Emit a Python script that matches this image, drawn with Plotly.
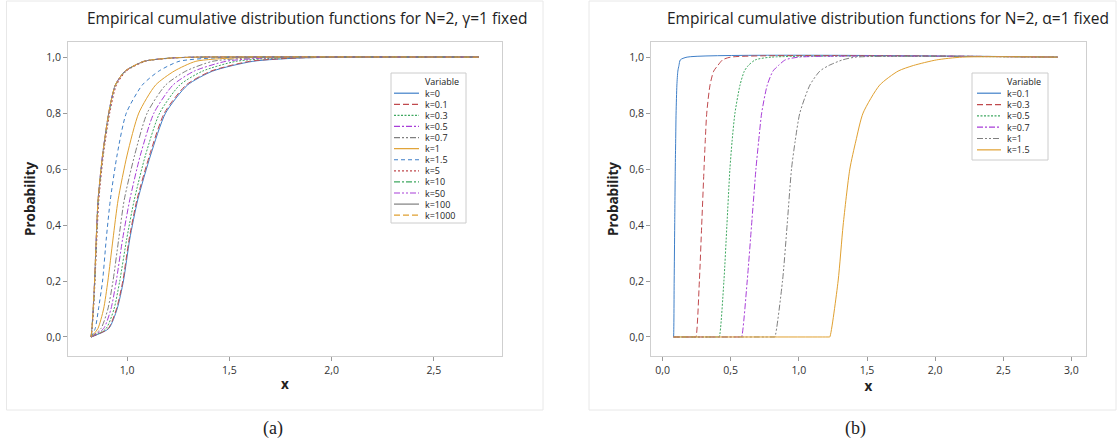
import plotly.graph_objects as go

# ---------------- data ----------------
# Panel (a): x-quantiles of each empirical CDF at given probability levels
prob_a = [0, 0.03, 0.1, 0.2, 0.35, 0.49, 0.65, 0.8, 0.9, 0.95, 0.985, 0.997, 1, 1]
labels_a = ["k=0", "k=0.1", "k=0.3", "k=0.5", "k=0.7", "k=1", "k=1.5",
            "k=5", "k=10", "k=50", "k=100", "k=1000"]
x_k0    = [0.824, 0.910, 0.951, 0.982, 1.013, 1.052, 1.115, 1.188, 1.295, 1.418, 1.615, 1.85, 2.20, 2.72]
x_k01   = [0.824, 0.907, 0.948, 0.979, 1.010, 1.048, 1.110, 1.182, 1.288, 1.410, 1.600, 1.83, 2.18, 2.72]
x_k03   = [0.824, 0.897, 0.936, 0.964, 0.998, 1.035, 1.090, 1.159, 1.257, 1.369, 1.533, 1.75, 2.05, 2.72]
x_k05   = [0.824, 0.885, 0.921, 0.947, 0.978, 1.013, 1.065, 1.131, 1.224, 1.328, 1.483, 1.68, 1.95, 2.72]
x_k07   = [0.824, 0.872, 0.906, 0.931, 0.959, 0.986, 1.037, 1.098, 1.188, 1.287, 1.418, 1.60, 1.85, 2.72]
x_k1    = [0.824, 0.857, 0.885, 0.906, 0.931, 0.956, 1.000, 1.057, 1.139, 1.230, 1.336, 1.52, 1.75, 2.72]
x_k15   = [0.824, 0.844, 0.860, 0.880, 0.898, 0.918, 0.951, 0.996, 1.074, 1.155, 1.254, 1.42, 1.60, 2.72]
x_k5    = [0.824, 0.829, 0.836, 0.843, 0.852, 0.862, 0.884, 0.915, 0.948, 0.996, 1.090, 1.23, 1.38, 2.72]
x_k10   = [0.824, 0.828, 0.835, 0.842, 0.850, 0.859, 0.881, 0.911, 0.943, 0.991, 1.084, 1.22, 1.36, 2.72]
x_k50   = [0.824, 0.828, 0.834, 0.841, 0.849, 0.858, 0.880, 0.910, 0.942, 0.990, 1.082, 1.22, 1.35, 2.72]
x_k100  = [0.824, 0.828, 0.834, 0.841, 0.849, 0.858, 0.880, 0.910, 0.942, 0.990, 1.082, 1.22, 1.35, 2.72]
x_k1000 = [0.824, 0.828, 0.834, 0.841, 0.849, 0.858, 0.880, 0.910, 0.942, 0.990, 1.082, 1.22, 1.35, 2.72]
series_a = [x_k0, x_k01, x_k03, x_k05, x_k07, x_k1, x_k15, x_k5, x_k10, x_k50, x_k100, x_k1000]

# Panel (b)
prob_b = [0, 0, 0, 0.2, 0.4, 0.6, 0.7, 0.8, 0.9, 0.95, 0.97, 0.99, 1, 1]
labels_b = ["k=0.1", "k=0.3", "k=0.5", "k=0.7", "k=1", "k=1.5"]
xb_k01 = [0.080, 0.0800, 0.0805, 0.085, 0.089, 0.093, 0.096, 0.099, 0.105, 0.112, 0.120, 0.130, 0.18, 2.90]
xb_k03 = [0.080, 0.240, 0.245, 0.270, 0.287, 0.304, 0.313, 0.324, 0.348, 0.375, 0.405, 0.440, 0.50, 2.90]
xb_k05 = [0.080, 0.411, 0.416, 0.450, 0.472, 0.494, 0.510, 0.531, 0.568, 0.600, 0.629, 0.680, 0.80, 2.90]
xb_k07 = [0.080, 0.575, 0.580, 0.621, 0.653, 0.685, 0.705, 0.727, 0.768, 0.810, 0.850, 0.900, 1.00, 2.90]
xb_k1  = [0.080, 0.819, 0.824, 0.880, 0.914, 0.946, 0.973, 1.007, 1.081, 1.154, 1.220, 1.320, 1.42, 2.90]
xb_k15 = [0.080, 1.222, 1.227, 1.288, 1.325, 1.374, 1.418, 1.471, 1.593, 1.728, 1.840, 2.010, 2.20, 2.90]
series_b = [xb_k01, xb_k03, xb_k05, xb_k07, xb_k1, xb_k15]

# ---------------- styles ----------------
BLUE, RED, GREEN, PURPLE, GRAY, ORANGE = "#3f7fc8", "#c0494d", "#3fa860", "#a83ed8", "#7f7f7f", "#e0a030"
DASHDOTDOT = "6px,2px,2px,2px,2px,2px"
DASHDOT = "6px,2px,2px,2px"
styles_a = [
    (BLUE, "solid"), (RED, "6px,3px"), (GREEN, "2px,1.5px"), (PURPLE, DASHDOT),
    (GRAY, DASHDOTDOT), (ORANGE, "solid"), (BLUE, "4px,3px"), (RED, "2px,2px"),
    (GREEN, DASHDOT), (PURPLE, DASHDOTDOT), (GRAY, "solid"), (ORANGE, "6px,3px"),
]
styles_b = [
    (BLUE, "solid"), (RED, "6px,3px"), (GREEN, "2px,1.5px"), (PURPLE, DASHDOT),
    (GRAY, DASHDOTDOT), (ORANGE, "solid"),
]

W, H = 1119, 445
FONT = "Open Sans"
TXT = "#222222"
SMOOTH = 0.65

fig = go.Figure()
for lab, xs, (c, d) in zip(labels_a, series_a, styles_a):
    fig.add_trace(go.Scatter(x=xs, y=prob_a, mode="lines", name=lab, showlegend=False,
                             line=dict(color=c, dash=d, width=1, shape="spline", smoothing=SMOOTH),
                             xaxis="x", yaxis="y"))
for lab, xs, (c, d) in zip(labels_b, series_b, styles_b):
    fig.add_trace(go.Scatter(x=xs, y=prob_b, mode="lines", name=lab, showlegend=False,
                             line=dict(color=c, dash=d, width=1, shape="spline", smoothing=SMOOTH),
                             xaxis="x2", yaxis="y2"))

axis_common = dict(showline=True, mirror=True, linecolor="#cfcfcf", linewidth=1,
                   ticks="outside", ticklen=4, tickcolor="#9a9a9a",
                   showgrid=False, zeroline=False,
                   tickfont=dict(family=FONT, size=10.5, color="#333333"),
                   tickformat=".1f")
ydom = [89 / H, 403 / H]
xtitle = dict(text="<b>x</b>", font=dict(size=13.5, family=FONT, color=TXT), standoff=3)
ytitle = dict(text="<b>Probability</b>", font=dict(size=13.5, family=FONT, color=TXT), standoff=7)

fig.update_layout(
    width=W, height=H, margin=dict(l=0, r=0, t=0, b=0),
    paper_bgcolor="white", plot_bgcolor="white",
    separators=", ",
    font=dict(family=FONT, color=TXT),
    showlegend=False,
    xaxis=dict(domain=[68 / W, 502 / W], range=[0.711, 2.833], tickvals=[1.0, 1.5, 2.0, 2.5],
               title=xtitle, anchor="y", **axis_common),
    yaxis=dict(domain=ydom, range=[-0.068, 1.054], tickvals=[0, 0.2, 0.4, 0.6, 0.8, 1.0],
               title=ytitle, anchor="x", **axis_common),
    xaxis2=dict(domain=[651 / W, 1086 / W], range=[-0.085, 3.107],
                tickvals=[0, 0.5, 1.0, 1.5, 2.0, 2.5, 3.0],
                title=xtitle, anchor="y2", **axis_common),
    yaxis2=dict(domain=ydom, range=[-0.068, 1.054], tickvals=[0, 0.2, 0.4, 0.6, 0.8, 1.0],
                title=ytitle, anchor="x2", **axis_common),
)

def px_x(v):
    return v / W

def px_y(v):
    return 1 - v / H

# outer panel frames
for x0, x1 in [(6.5, 543), (589, 1116)]:
    fig.add_shape(type="rect", xref="paper", yref="paper",
                  x0=px_x(x0), x1=px_x(x1), y0=px_y(410), y1=px_y(1),
                  line=dict(color="#e8e8e8", width=1), layer="below")

# legends (Minitab style, compact)
LEG_FONT = 9
def draw_legend(box, line_x, text_x, header_y, first_y, step, labels, styles):
    bx0, by0, bx1, by1 = box
    fig.add_shape(type="rect", xref="paper", yref="paper",
                  x0=px_x(bx0), x1=px_x(bx1), y0=px_y(by1), y1=px_y(by0),
                  line=dict(color="#cccccc", width=1), fillcolor="white")
    fig.add_annotation(text="Variable", x=px_x(text_x), y=px_y(header_y), xref="paper", yref="paper",
                       xanchor="left", yanchor="middle", showarrow=False,
                       font=dict(family=FONT, size=LEG_FONT, color=TXT))
    for i, (lab, (c, d)) in enumerate(zip(labels, styles)):
        yy = first_y + i * step
        fig.add_shape(type="line", xref="paper", yref="paper",
                      x0=px_x(line_x[0]), x1=px_x(line_x[1]), y0=px_y(yy), y1=px_y(yy),
                      line=dict(color=c, dash=d, width=1.2))
        fig.add_annotation(text=lab, x=px_x(text_x), y=px_y(yy), xref="paper", yref="paper",
                           xanchor="left", yanchor="middle", showarrow=False,
                           font=dict(family=FONT, size=LEG_FONT, color=TXT))

draw_legend((391, 73, 466, 223), (394, 419), 423, 82.0, 93.2, 11.09, labels_a, styles_a)
draw_legend((972, 73, 1048, 160), (977, 1001), 1005, 82.0, 93.2, 11.33, labels_b, styles_b)

# titles
fig.add_annotation(text="Empirical cumulative distribution functions for N=2, \u03b3=1 fixed",
                   x=px_x(307), y=px_y(18), xref="paper", yref="paper", showarrow=False,
                   xanchor="center", yanchor="middle",
                   font=dict(family=FONT, size=15.5, color=TXT))
fig.add_annotation(text="Empirical cumulative distribution functions for N=2, \u03b1=1 fixed",
                   x=px_x(888), y=px_y(18), xref="paper", yref="paper", showarrow=False,
                   xanchor="center", yanchor="middle",
                   font=dict(family=FONT, size=15.5, color=TXT))
# captions
fig.add_annotation(text="(a)", x=px_x(273), y=px_y(428), xref="paper", yref="paper",
                   xanchor="center", yanchor="middle",
                   showarrow=False, font=dict(family="Liberation Serif", size=18, color=TXT))
fig.add_annotation(text="(b)", x=px_x(855), y=px_y(428), xref="paper", yref="paper",
                   xanchor="center", yanchor="middle",
                   showarrow=False, font=dict(family="Liberation Serif", size=18, color=TXT))

fig.write_html("out.html")
